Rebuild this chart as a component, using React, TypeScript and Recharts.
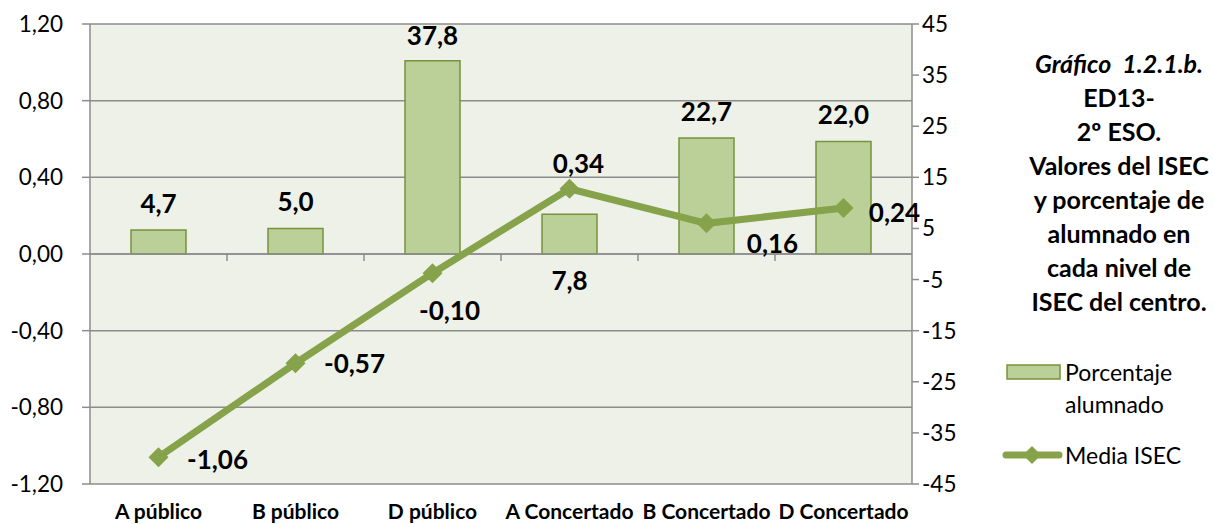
import {
  ComposedChart,
  Bar,
  Line,
  XAxis,
  YAxis,
  CartesianGrid,
  LabelList,
  ReferenceLine
} from "recharts"

const categories = ["A público", "B público", "D público", "A Concertado", "B Concertado", "D Concertado"]
const porcentajeAlumnado = [4.7, 5.0, 37.8, 7.8, 22.7, 22.0]
const mediaIsec = [-1.06, -0.57, -0.1, 0.34, 0.16, 0.24]
const leftTicks = [1.2, 0.8, 0.4, 0, -0.4, -0.8, -1.2]
const rightTicks = [45, 35, 25, 15, 5, -5, -15, -25, -35, -45]
const seriesNames = ["Porcentaje alumnado", "Media ISEC"]
const titleLines = [
  "Gráfico\u00a0 1.2.1.b.",
  "ED13-",
  "2º ESO.",
  "Valores del ISEC",
  "y porcentaje de",
  "alumnado en",
  "cada nivel de",
  "ISEC del centro."
]

const data = categories.map((name, i) => ({
  name,
  porcentaje: porcentajeAlumnado[i],
  isec: mediaIsec[i]
}))

// label nudges (dx, dy)
const barLabelShift = [[0, -27], [0, -27], [0, -26], [0, 66], [0, -27], [0, -28]]
const lineLabelShift = [[59, 2], [59, 0], [17, 37], [9, -26], [66, 20], [51, 4]]

const FONT = "Lato, 'Open Sans', sans-serif"
const BAR_FILL = "#bbcf98"
const BAR_STROKE = "#77933c"
const LINE_COLOR = "#86a24a"
const GRID = "#8c8c8c"

const comma = (v: number, d: number) => v.toFixed(d).replace(".", ",")

const Diamond = (props: any) => {
  const { cx, cy, index } = props
  const r = 10
  return (
    <path
      key={"d" + index}
      d={`M${cx},${cy - r} L${cx + r},${cy} L${cx},${cy + r} L${cx - r},${cy} Z`}
      fill={LINE_COLOR}
    />
  )
}

const BarLabel = (props: any) => {
  const { x, y, width, value, index } = props
  const [dx, dy] = barLabelShift[index]
  return (
    <text
      x={x + width / 2 + dx}
      y={y + dy}
      textAnchor="middle"
      dominantBaseline="central"
      fontFamily={FONT}
      fontWeight="bold"
      fontSize={26}
      fill="#000"
    >
      {comma(value, 1)}
    </text>
  )
}

const LineLabel = (props: any) => {
  const { x, y, value, index } = props
  const [dx, dy] = lineLabelShift[index]
  return (
    <text
      x={x + dx}
      y={y + dy}
      textAnchor="middle"
      dominantBaseline="central"
      fontFamily={FONT}
      fontWeight="bold"
      fontSize={26}
      fill="#000"
    >
      {comma(value, 2)}
    </text>
  )
}

// zero line with the category separators hanging below it
const ZeroAxis = (props: any) => {
  const { x1, x2, y1 } = props
  const step = (x2 - x1) / categories.length
  return (
    <g>
      <line x1={x1} x2={x2} y1={y1} y2={y1} stroke={GRID} strokeWidth={1.5} />
      {categories.slice(1).map((_, i) => (
        <line
          key={i}
          x1={x1 + step * (i + 1)}
          x2={x1 + step * (i + 1)}
          y1={y1}
          y2={y1 + 7}
          stroke={GRID}
          strokeWidth={1.5}
        />
      ))}
    </g>
  )
}

const legendText = { fontFamily: FONT, fontSize: 23, fill: "#000" }

const App = () => {
  return (
    <div style={{ position: "absolute", left: 0, top: 0, width: 1214, height: 524, background: "#fff" }}>
      <ComposedChart
        width={1214}
        height={524}
        data={data}
        margin={{ top: 24, right: 242, bottom: 0, left: 10 }}
        barSize={55}
      >
        <CartesianGrid
          yAxisId="left"
          vertical={false}
          stroke={GRID}
          strokeWidth={1.5}
          fill="#eef1e8"
          fillOpacity={1}
        />
        <XAxis
          dataKey="name"
          axisLine={false}
          tickLine={false}
          tickSize={0}
          tickMargin={20}
          height={40}
          interval={0}
          tick={{ fontFamily: FONT, fontWeight: "bold", fontSize: 21, fill: "#000" }}
        />
        <YAxis
          yAxisId="left"
          orientation="left"
          domain={[-1.2, 1.2]}
          ticks={leftTicks}
          width={80}
          tickSize={8}
          tickMargin={19}
          stroke={GRID}
          strokeWidth={1.5}
          tickFormatter={(v: number) => comma(v, 2)}
          tick={{ fontFamily: FONT, fontSize: 22.5, fill: "#000" }}
        />
        <YAxis
          yAxisId="right"
          orientation="right"
          domain={[-45, 45]}
          ticks={rightTicks}
          width={60}
          tickSize={7}
          tickMargin={3}
          stroke={GRID}
          strokeWidth={1.5}
          tick={{ fontFamily: FONT, fontSize: 22.5, fill: "#000" }}
        />
        <ReferenceLine yAxisId="left" y={0} shape={ZeroAxis} />
        <Bar
          yAxisId="right"
          dataKey="porcentaje"
          name={seriesNames[0]}
          fill={BAR_FILL}
          stroke={BAR_STROKE}
          strokeWidth={1.5}
          isAnimationActive={false}
        >
          <LabelList dataKey="porcentaje" content={BarLabel} />
        </Bar>
        <Line
          yAxisId="left"
          dataKey="isec"
          name={seriesNames[1]}
          stroke={LINE_COLOR}
          strokeWidth={7}
          dot={Diamond}
          activeDot={false}
          isAnimationActive={false}
        >
          <LabelList dataKey="isec" content={LineLabel} />
        </Line>
      </ComposedChart>

      <svg
        width={1214}
        height={524}
        style={{ position: "absolute", left: 0, top: 0, pointerEvents: "none" }}
      >
        {titleLines.map((t, i) => (
          <text
            key={i}
            x={1119}
            y={63 + i * 34}
            textAnchor="middle"
            dominantBaseline="central"
            fontFamily={FONT}
            fontWeight="bold"
            fontStyle={i === 0 ? "italic" : "normal"}
            fontSize={25}
            fill="#000"
          >
            {t}
          </text>
        ))}

        <rect x={1007} y={365} width={53} height={14} fill={BAR_FILL} stroke={BAR_STROKE} strokeWidth={1.5} />
        <text x={1065} y={372} dominantBaseline="central" {...legendText}>
          {seriesNames[0].split(" ")[0]}
        </text>
        <text x={1065} y={404} dominantBaseline="central" {...legendText}>
          {seriesNames[0].split(" ")[1]}
        </text>

        <line x1={1006} x2={1059} y1={455} y2={455} stroke={LINE_COLOR} strokeWidth={7} strokeLinecap="round" />
        <path d="M1032,446 L1041,455 L1032,464 L1023,455 Z" fill={LINE_COLOR} />
        <text x={1065} y={455} dominantBaseline="central" {...legendText}>
          {seriesNames[1]}
        </text>
      </svg>
    </div>
  )
}

export default App
